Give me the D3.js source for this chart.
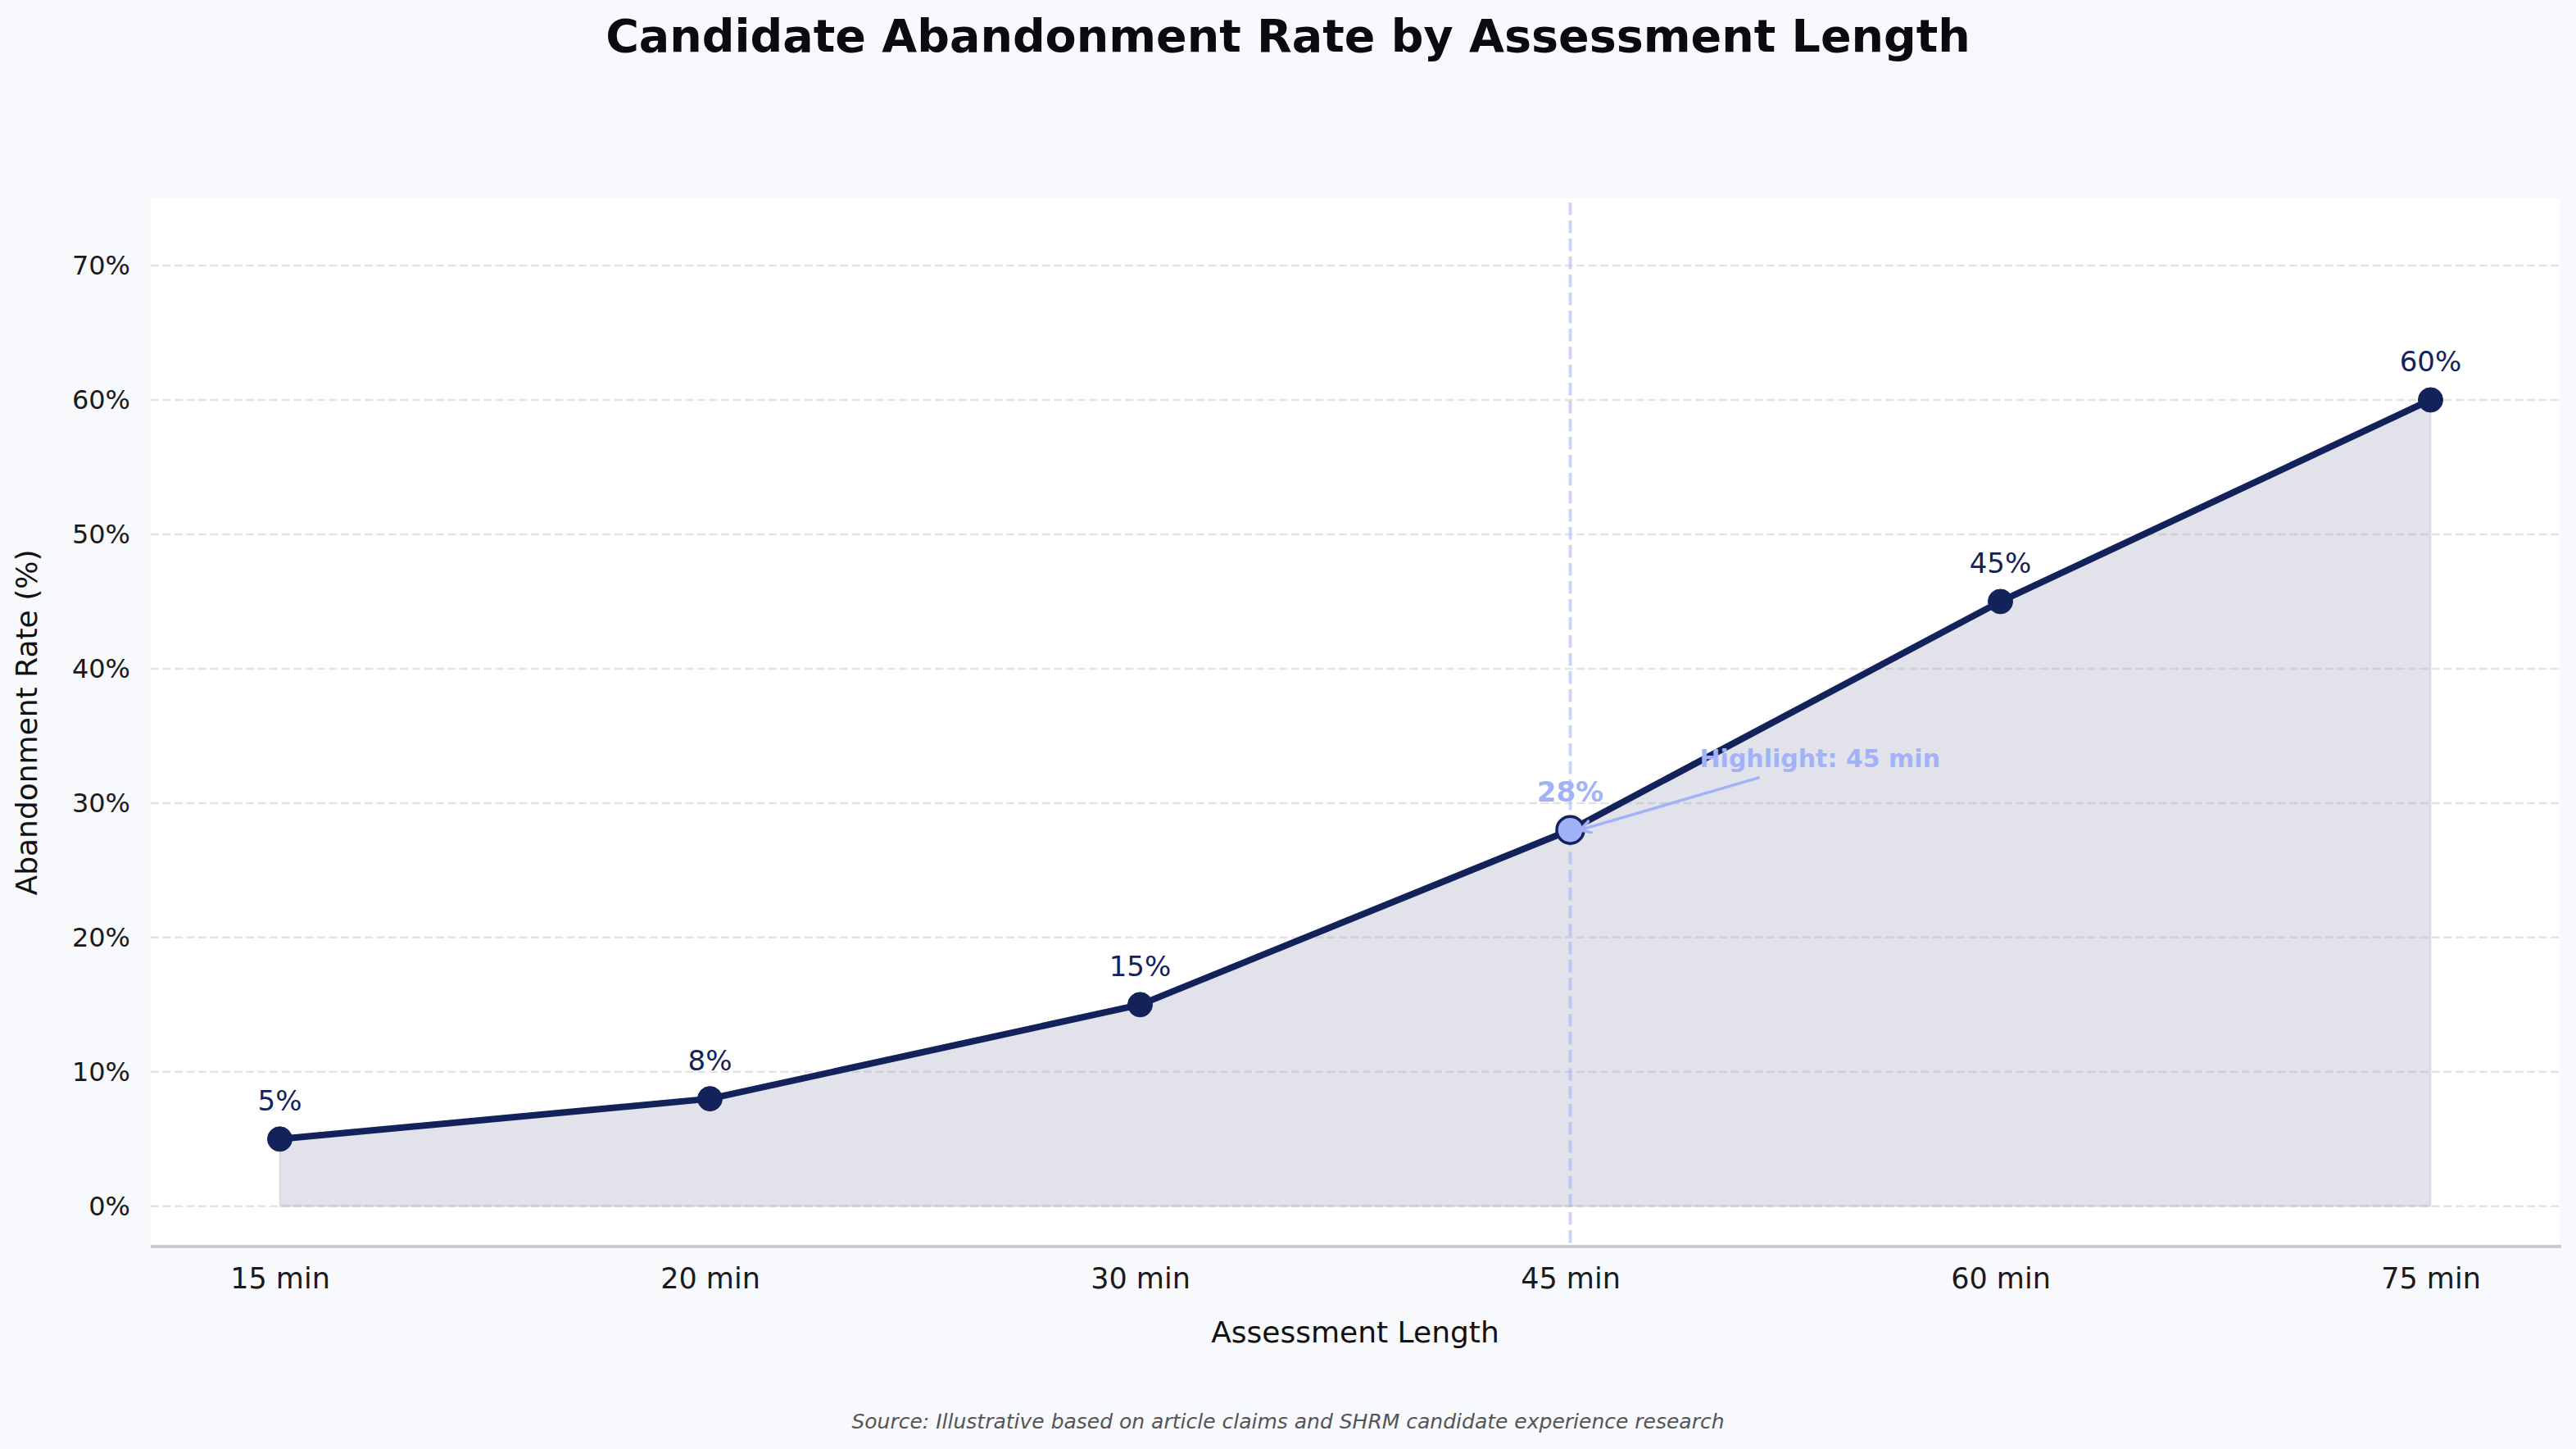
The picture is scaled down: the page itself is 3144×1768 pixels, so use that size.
<!DOCTYPE html>
<html>
<head>
<meta charset="utf-8">
<script src="https://cdn.jsdelivr.net/npm/d3@7"></script>
<style>
  body { margin: 0; background: #f7f9fc; }
  svg { display: block; font-family: "DejaVu Sans", sans-serif; }
</style>
</head>
<body>
<svg id="chart" width="3144" height="1768"></svg>
<script>
// data
var lengths = ["15 min", "20 min", "30 min", "45 min", "60 min", "75 min"];
var rates = [5, 8, 15, 28, 45, 60];
var yTicks = [0, 10, 20, 30, 40, 50, 60, 70];
var highlightIdx = 3;

var W = 3144, H = 1768;
var mLeft = 184, mRight = 3124, mTop = 242, mBottom = 1521;
var navy = "#14225c", light = "#a1b2f9";

var svg = d3.select("#chart");

svg.append("rect").attr("width", W).attr("height", H).attr("fill", "#f7f9fc");
svg.append("rect")
    .attr("x", mLeft).attr("y", mTop)
    .attr("width", mRight - mLeft).attr("height", mBottom - mTop)
    .attr("fill", "#ffffff");

var x = d3.scalePoint().domain(lengths).range([mLeft, mRight]).padding(0.3);
var y = d3.scaleLinear().domain([-3, 75]).range([mBottom, mTop]);

var pts = lengths.map(function (c, i) { return { cat: c, v: rates[i], i: i }; });

// area under the line
var area = d3.area()
    .x(function (d) { return x(d.cat); })
    .y0(y(0))
    .y1(function (d) { return y(d.v); });
svg.append("path")
    .datum(pts)
    .attr("d", area)
    .attr("fill", navy).attr("fill-opacity", 0.13)
    .attr("stroke", navy).attr("stroke-opacity", 0.07).attr("stroke-width", 3);

// grid
svg.append("g").selectAll("line")
    .data(yTicks).enter().append("line")
    .attr("x1", mLeft).attr("x2", mRight)
    .attr("y1", function (d) { return y(d); })
    .attr("y2", function (d) { return y(d); })
    .attr("stroke", "#b0b0b0").attr("stroke-opacity", 0.35)
    .attr("stroke-width", 2.5)
    .attr("stroke-dasharray", "10,4.5");

// highlight vertical line
svg.append("line")
    .attr("x1", x(lengths[highlightIdx])).attr("x2", x(lengths[highlightIdx]))
    .attr("y1", mTop + 5).attr("y2", mBottom)
    .attr("stroke", light).attr("stroke-opacity", 0.55)
    .attr("stroke-width", 4)
    .attr("stroke-dasharray", "15.5,6.5");

// bottom spine
svg.append("line")
    .attr("x1", mLeft).attr("x2", mRight + 2)
    .attr("y1", mBottom).attr("y2", mBottom)
    .attr("stroke", "#cbcbcb").attr("stroke-width", 4);

// y axis
var yAxis = svg.append("g")
    .attr("transform", "translate(" + mLeft + ",0)")
    .call(d3.axisLeft(y).tickValues(yTicks).tickSize(0).tickPadding(25)
        .tickFormat(function (d) { return d + "%"; }));
yAxis.select(".domain").remove();
yAxis.selectAll("text")
    .attr("font-size", 32).attr("fill", "#1a1a1a")
    .attr("font-family", "DejaVu Sans");

// x axis
var xAxis = svg.append("g")
    .attr("transform", "translate(0," + mBottom + ")")
    .call(d3.axisBottom(x).tickSize(0).tickPadding(26));
xAxis.select(".domain").remove();
xAxis.selectAll("text")
    .attr("font-size", 35).attr("fill", "#1a1a1a")
    .attr("font-family", "DejaVu Sans");

// line
var line = d3.line()
    .x(function (d) { return x(d.cat); })
    .y(function (d) { return y(d.v); });
svg.append("path")
    .datum(pts)
    .attr("d", line)
    .attr("fill", "none")
    .attr("stroke", navy).attr("stroke-width", 8)
    .attr("stroke-linejoin", "round");

// markers
svg.append("g").selectAll("circle")
    .data(pts).enter().append("circle")
    .attr("cx", function (d) { return x(d.cat); })
    .attr("cy", function (d) { return y(d.v); })
    .attr("r", function (d) { return d.i === highlightIdx ? 16.5 : 15; })
    .attr("fill", function (d) { return d.i === highlightIdx ? light : navy; })
    .attr("stroke", navy)
    .attr("stroke-width", function (d) { return d.i === highlightIdx ? 3.5 : 1; });

// value labels
svg.append("g").selectAll("text")
    .data(pts).enter().append("text")
    .attr("x", function (d) { return x(d.cat); })
    .attr("y", function (d) { return y(d.v) - 35; })
    .attr("text-anchor", "middle")
    .attr("font-size", 34)
    .attr("font-weight", function (d) { return d.i === highlightIdx ? "bold" : "normal"; })
    .attr("fill", function (d) { return d.i === highlightIdx ? light : navy; })
    .text(function (d) { return d.v + "%"; });

// annotation
var hx = x(lengths[highlightIdx]), hy = y(rates[highlightIdx]);
var defs = svg.append("defs");
defs.append("marker")
    .attr("id", "arrow")
    .attr("markerUnits", "userSpaceOnUse")
    .attr("markerWidth", 30).attr("markerHeight", 30)
    .attr("refX", 14).attr("refY", 8)
    .attr("orient", "auto")
    .append("path")
    .attr("d", "M0,0 L14,8 L0,16")
    .attr("fill", "none").attr("stroke", light).attr("stroke-width", 3.5);

svg.append("line")
    .attr("x1", hx + 231).attr("y1", hy - 64)
    .attr("x2", hx + 12).attr("y2", hy)
    .attr("stroke", light).attr("stroke-width", 3.5)
    .attr("marker-end", "url(#arrow)");

svg.append("text")
    .attr("x", hx + 158).attr("y", hy - 77)
    .attr("font-size", 30).attr("font-weight", "bold")
    .attr("fill", light)
    .text("Highlight: " + lengths[highlightIdx]);

// titles
svg.append("text")
    .attr("x", W / 2).attr("y", 63)
    .attr("text-anchor", "middle")
    .attr("font-size", 55.5).attr("font-weight", "bold")
    .attr("fill", "#0a0a12")
    .text("Candidate Abandonment Rate by Assessment Length");

svg.append("text")
    .attr("x", (mLeft + mRight) / 2).attr("y", 1638)
    .attr("text-anchor", "middle")
    .attr("font-size", 36).attr("fill", "#111")
    .text("Assessment Length");

svg.append("text")
    .attr("transform", "translate(45," + (mTop + mBottom) / 2 + ") rotate(-90)")
    .attr("text-anchor", "middle")
    .attr("font-size", 36).attr("fill", "#111")
    .text("Abandonment Rate (%)");

svg.append("text")
    .attr("x", W / 2).attr("y", 1743)
    .attr("text-anchor", "middle")
    .attr("font-size", 25).attr("font-style", "italic")
    .attr("fill", "#555")
    .text("Source: Illustrative based on article claims and SHRM candidate experience research");
</script>
</body>
</html>
